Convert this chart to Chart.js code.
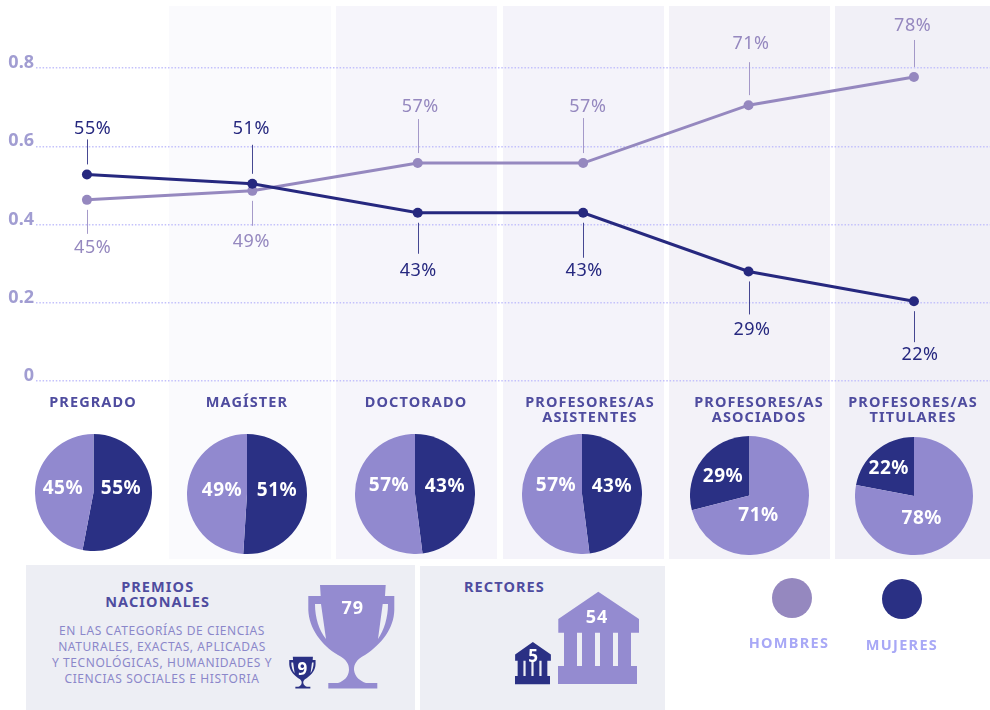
<!DOCTYPE html>
<html lang="es">
<head>
<meta charset="utf-8">
<title>Hombres y mujeres en la academia</title>
<script src="https://cdn.jsdelivr.net/npm/chart.js@4"></script>
<style>
    html, body { margin: 0; padding: 0; background: #fff; }
    #page { position: relative; width: 990px; height: 710px; overflow: hidden; font-family: "Noto Sans", sans-serif; }
    #page > * { position: absolute; }
    .panel { top: 6px; height: 553px; }
    .box { background: #edeef4; }
    .heading { width: 170px; text-align: center; font-weight: 700; font-size: 14.5px; line-height: 15px; letter-spacing: 1.1px; color: #4f4c9f; white-space: nowrap; }
    .desc { left: 42px; top: 623px; width: 240px; text-align: center; font-size: 12px; line-height: 16px; letter-spacing: .58px; color: #8b87ca; white-space: nowrap; }
    .legend-dot { width: 40px; height: 40px; border-radius: 50%; }
    .legend-text { width: 120px; text-align: center; font-weight: 700; font-size: 14.5px; letter-spacing: 1.3px; color: #a8a8f6; }
    svg { left: 0; top: 0; }
    svg text { font-family: "Noto Sans", sans-serif; font-weight: 700; fill: #fff; text-anchor: middle; dominant-baseline: central; }
</style>
</head>
<body>
<div id="page">
    <div class="panel" style="left:169px;width:162px;background:#fafafd"></div>
    <div class="panel" style="left:336px;width:161px;background:#f6f5fb"></div>
    <div class="panel" style="left:503px;width:161px;background:#f4f3fa"></div>
    <div class="panel" style="left:669px;width:161px;background:#f3f2f8"></div>
    <div class="panel" style="left:835px;width:155px;background:#f1f0f7"></div>

    <div class="box" style="left:26px;top:565px;width:389px;height:145px"></div>
    <div class="box" style="left:420px;top:566px;width:245px;height:144px"></div>

    <canvas id="trendChart" width="995" height="400" style="left:0;top:0"></canvas>

    <div class="heading" style="left:72.700px;top:579px">PREMIOS<br>NACIONALES</div>
    <div class="desc">EN LAS CATEGORÍAS DE CIENCIAS<br>NATURALES, EXACTAS, APLICADAS<br>Y TECNOLÓGICAS, HUMANIDADES Y<br>CIENCIAS SOCIALES E HISTORIA</div>
    <div class="heading" style="left:464px;top:579px;width:auto">RECTORES</div>

    <svg width="990" height="710" viewBox="0 0 990 710">
        <defs>
            <path id="trophy" fill-rule="evenodd" d="M320 585 H385.7 L385 596 H394.3 V610 C394 628 382 644 365 655 C356 660 354 664 354 670 C355 677 360 681 366 683 H377.3 V688.5 H328.3 V683 H338 C344 681 348.500 677 349 670 C349 664 347 660 338 655 C321 645 309 628 308.300 610 V596 H320.700 Z M315 604 H321 L326 639 C319 630 315 618 315 604 Z M388 604 H382.700 L378 639 C384 630 388 618 388 604 Z"/>
            <path id="bank" fill-rule="evenodd" d="M598.300 591.700 L639 619 V632.700 H631 V666 H637 V684 H558 V666 H564 V632.700 H558.300 V619 Z M577 632.700 H582 V666 H577 Z M595 632.700 H600 V666 H595 Z M613 632.700 H618 V666 H613 Z"/>
        </defs>
        <use href="#trophy" fill="#948bd0"/>
        <use href="#trophy" fill="#2a3084" transform="translate(194.900 477.700) scale(.306)"/>
        <use href="#bank" fill="#948bd0"/>
        <use href="#bank" fill="#2a3084" transform="translate(267.800 370.900) scale(.443 .458)"/>
        <text id="premioHombres" x="352.700" y="606.700" font-size="18" letter-spacing="1"></text>
        <text id="premioMujeres" x="302.300" y="668.300" font-size="17"></text>
        <text id="rectorHombres" x="597" y="616" font-size="18" letter-spacing="1"></text>
        <text id="rectorMujeres" x="533" y="655" font-size="17"></text>
    </svg>

    <div class="legend-dot" style="left:772px;top:578px;background:#9588bf"></div>
    <div class="legend-dot" style="left:882px;top:579px;background:#2a3084"></div>
    <div class="legend-text" id="legendHombres" style="left:729px;top:632px"></div>
    <div class="legend-text" id="legendMujeres" style="left:842px;top:634px"></div>
</div>

<script>
// Data
const categories = [['PREGRADO'], ['MAGÍSTER'], ['DOCTORADO'], ['PROFESORES/AS', 'ASISTENTES'], ['PROFESORES/AS', 'ASOCIADOS'], ['PROFESORES/AS', 'TITULARES']];
const yTickLabels = ['0', '0.2', '0.4', '0.6', '0.8'];
const seriesNames = ['HOMBRES', 'MUJERES'];

// The plotted line heights do not quite agree with the printed percentages, so both are kept
const lineMujeres = [0.528, 0.504, 0.43, 0.43, 0.28, 0.204];
const lineHombres = [0.463, 0.486, 0.557, 0.557, 0.705, 0.777];
const labelMujeres = [55, 51, 43, 43, 29, 22];
const labelHombres = [45, 49, 57, 57, 71, 78];

// Slice sizes as drawn in the pies
const pieMujeres = [53, 51, 48, 48, 29, 22];
const pieHombres = [47, 49, 52, 52, 71, 78];

const premios = { hombres: 79, mujeres: 9 };
const rectores = { hombres: 54, mujeres: 5 };

// Colours and layout
const COLOR_HOMBRES = '#9588bf';
const COLOR_MUJERES = '#26287f';
const PIE_HOMBRES = '#9189cf';
const PIE_MUJERES = '#2a3084';
const FONT = '"Noto Sans", sans-serif';

const headingCenters = [93, 247, 416, 590, 759, 913];
const pieBoxes = [
    { cx: 93.7, cy: 492.3, r: 58.5 },
    { cx: 246.7, cy: 494, r: 60 },
    { cx: 415, cy: 494, r: 60 },
    { cx: 581.7, cy: 494, r: 60 },
    { cx: 749.7, cy: 495, r: 59.5 },
    { cx: 913.7, cy: 495.5, r: 59 }
];
// Label shift from the slice centre, [mujeres, hombres]
const pieLabelShift = [
    [[-1.6, -6.7], [-1.5, -1.3]],
    [[0, -4.6], [5, -2.8]],
    [[0, -6], [4, -10]],
    [[0, -6], [4, -10]],
    [[-3, -1], [-14.5, 2]],
    [[-6.5, -4.5], [-11, 0]]
];
// Leader line length, then label distance from its end and sideways shift
const leaderMujeres = [25, 29, 31, 35, 33, 31];
const leaderHombres = [24, 25, 34, 35, 33, 27];
const labelGapMujeres = [10.5, 16, 17, 13, 15.3, 12.7];
const labelGapHombres = [14, 16, 12, 11, 18.3, 14];
const labelShiftMujeres = [5.7, -1, 0.5, 1, 3.5, 6];
const labelShiftHombres = [5.7, -1, 2.5, 4.7, 2.5, -1.3];

const page = document.getElementById('page');

// Category headings
categories.forEach((lines, i) => {
    const heading = document.createElement('div');
    heading.className = 'heading';
    heading.innerHTML = lines.join('<br>');
    heading.style.left = (headingCenters[i] - 85) + 'px';
    heading.style.top = '394px';
    page.appendChild(heading);
});

document.getElementById('premioHombres').textContent = premios.hombres;
document.getElementById('premioMujeres').textContent = premios.mujeres;
document.getElementById('rectorHombres').textContent = rectores.hombres;
document.getElementById('rectorMujeres').textContent = rectores.mujeres;
document.getElementById('legendHombres').textContent = seriesNames[0];
document.getElementById('legendMujeres').textContent = seriesNames[1];

// Leader lines and percentage labels of the line chart
const leaderLabels = {
    id: 'leaderLabels',
    afterDatasetsDraw(chart) {
        const ctx = chart.ctx;
        chart.data.datasets.forEach((dataset, d) => {
            const meta = chart.getDatasetMeta(d);
            meta.data.forEach((point, i) => {
                const other = chart.data.datasets[1 - d].data[i].y;
                const dir = dataset.data[i].y > other ? -1 : 1;
                const start = point.y + dir * 10;
                const end = start + dir * dataset.leader[i];
                ctx.save();
                ctx.strokeStyle = dataset.borderColor;
                ctx.globalAlpha = 0.85;
                ctx.lineWidth = 1;
                ctx.beginPath();
                ctx.moveTo(Math.round(point.x) + 0.5, start);
                ctx.lineTo(Math.round(point.x) + 0.5, end);
                ctx.stroke();
                ctx.globalAlpha = 1;
                ctx.fillStyle = dataset.borderColor;
                ctx.font = '18px ' + FONT;
                ctx.letterSpacing = '0.5px';
                ctx.textAlign = 'center';
                ctx.textBaseline = 'middle';
                ctx.fillText(dataset.printed[i] + '%', point.x + dataset.labelShift[i], end + dir * dataset.labelGap[i]);
                ctx.restore();
            });
        });
    }
};

new Chart(document.getElementById('trendChart'), {
    type: 'line',
    data: {
        datasets: [
            {
                label: 'Mujeres',
                data: lineMujeres.map((v, i) => ({ x: i, y: v })),
                printed: labelMujeres,
                leader: leaderMujeres,
                labelGap: labelGapMujeres,
                labelShift: labelShiftMujeres,
                borderColor: COLOR_MUJERES,
                backgroundColor: COLOR_MUJERES
            },
            {
                label: 'Hombres',
                data: lineHombres.map((v, i) => ({ x: i, y: v })),
                printed: labelHombres,
                leader: leaderHombres,
                labelGap: labelGapHombres,
                labelShift: labelShiftHombres,
                borderColor: COLOR_HOMBRES,
                backgroundColor: COLOR_HOMBRES
            }
        ]
    },
    options: {
        responsive: false,
        animation: false,
        clip: false,
        layout: { padding: { top: 68, bottom: 19, left: 0, right: 0 } },
        elements: {
            line: { borderWidth: 3, tension: 0 },
            point: { radius: 5, borderWidth: 0 }
        },
        scales: {
            x: { type: 'linear', display: false, min: -0.308, max: 5.46 },
            y: {
                min: 0,
                max: 0.8,
                afterFit: scale => { scale.width = 36; },
                border: { display: false, dash: [1.5, 1.8] },
                grid: { color: '#c4c1fb', lineWidth: 1.5, drawTicks: false },
                ticks: {
                    stepSize: 0.2,
                    padding: 2,
                    color: '#a19dd2',
                    font: { family: FONT, size: 18, weight: 'bold', lineHeight: '10px' },
                    // empty second line lifts the label above its gridline
                    callback: (value, index) => [yTickLabels[index], '']
                }
            }
        },
        plugins: { legend: { display: false }, tooltip: { enabled: false } }
    },
    plugins: [leaderLabels]
});

// White percentage labels on the pies
const sliceLabels = {
    id: 'sliceLabels',
    afterDatasetsDraw(chart, args, opts) {
        const ctx = chart.ctx;
        chart.getDatasetMeta(0).data.forEach((arc, s) => {
            const center = arc.getCenterPoint();
            ctx.save();
            ctx.fillStyle = '#fff';
            ctx.font = 'bold 19px ' + FONT;
            ctx.letterSpacing = '0.5px';
            ctx.textAlign = 'center';
            ctx.textBaseline = 'middle';
            ctx.fillText(opts.printed[s] + '%', center.x + opts.shift[s][0], center.y + opts.shift[s][1]);
            ctx.restore();
        });
    }
};

pieBoxes.forEach((box, i) => {
    const canvas = document.createElement('canvas');
    canvas.width = box.r * 2;
    canvas.height = box.r * 2;
    canvas.style.left = (box.cx - box.r) + 'px';
    canvas.style.top = (box.cy - box.r) + 'px';
    page.appendChild(canvas);

    // The last two pies start with the men's slice at twelve o'clock
    const startsWithHombres = pieHombres[i] > 60;
    new Chart(canvas, {
        type: 'pie',
        data: {
            labels: ['Mujeres', 'Hombres'],
            datasets: [{
                data: [pieMujeres[i], pieHombres[i]],
                backgroundColor: [PIE_MUJERES, PIE_HOMBRES],
                borderWidth: 0
            }]
        },
        options: {
            responsive: false,
            animation: false,
            rotation: startsWithHombres ? -pieMujeres[i] * 3.6 : 0,
            plugins: {
                legend: { display: false },
                tooltip: { enabled: false },
                sliceLabels: { printed: [labelMujeres[i], labelHombres[i]], shift: pieLabelShift[i] }
            }
        },
        plugins: [sliceLabels]
    });
});
</script>
</body>
</html>
